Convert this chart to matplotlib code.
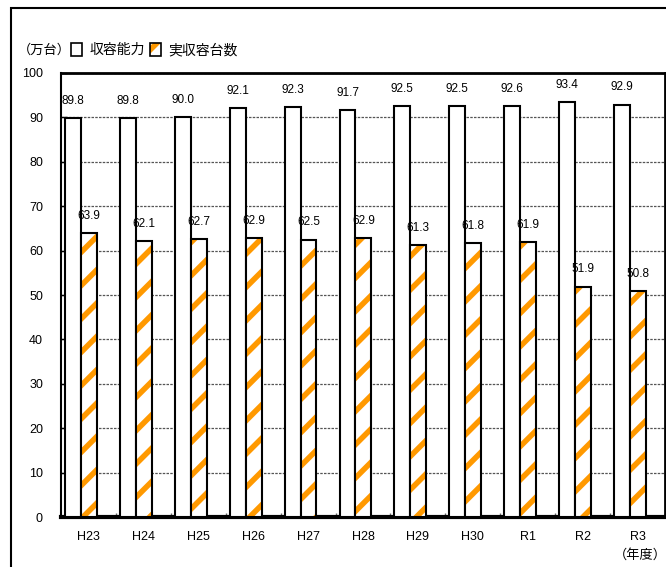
import matplotlib.pyplot as plt
from matplotlib.patches import Patch, Rectangle

plt.rcParams['font.family'] = ['Liberation Sans', 'Noto Sans CJK JP', 'DejaVu Sans']
plt.rcParams['hatch.linewidth'] = 4.0

years = ['H23', 'H24', 'H25', 'H26', 'H27', 'H28', 'H29', 'H30', 'R1', 'R2', 'R3']
capacity = [89.8, 89.8, 90.0, 92.1, 92.3, 91.7, 92.5, 92.5, 92.6, 93.4, 92.9]
actual = [63.9, 62.1, 62.7, 62.9, 62.5, 62.9, 61.3, 61.8, 61.9, 51.9, 50.8]
names = ['収容能力', '実収容台数']

orange = '#FF9900'
fig = plt.figure(figsize=(6.66, 5.67), dpi=100)
ax = fig.add_axes([61 / 666, 1 - 517 / 567, 604 / 666, 444 / 567])

x = list(range(len(years)))
w = 0.29
x_cap = [i - 0.427 for i in x]
x_act = [i - 0.137 for i in x]

ax.bar(x_cap, capacity, width=w, align='edge', color='white', edgecolor='black', linewidth=1.5, zorder=3)
ax.bar(x_act, actual, width=w, align='edge', color='white', edgecolor=orange, hatch='/', linewidth=0, zorder=3)
ax.bar(x_act, actual, width=w, align='edge', fill=False, edgecolor='black', linewidth=1.5, zorder=4)

for i in x:
    ax.text(x_cap[i] + w / 2, capacity[i] + 2.5, f'{capacity[i]:.1f}', ha='center', va='bottom', fontsize=8.5)
    ax.text(x_act[i] + w / 2, actual[i] + 2.5, f'{actual[i]:.1f}', ha='center', va='bottom', fontsize=8.5)

ax.set_xlim(-0.5, len(years) - 0.5)
ax.set_ylim(0, 100)
ax.set_yticks(range(0, 101, 10))
ax.set_xticks(x)
ax.set_xticklabels(years, fontsize=9)
ax.tick_params(axis='x', length=0, pad=10)
ax.set_xticks([i + 0.5 for i in x[:-1]], minor=True)
ax.tick_params(axis='x', which='minor', direction='in', length=3, width=1, color='#666666')
ax.tick_params(axis='y', direction='in', length=4, width=1, labelsize=9, pad=13)
ax.grid(axis='y', linestyle=(0, (2, 1)), color='#555555', linewidth=0.9, zorder=0)

ax.spines['left'].set_linewidth(1.5)
ax.spines['bottom'].set_linewidth(3)
ax.spines['top'].set_linewidth(2)
ax.spines['right'].set_linewidth(2)

h1 = Patch(facecolor='white', edgecolor='black', linewidth=1.2)
h2a = Patch(facecolor='white', edgecolor=orange, hatch='/', linewidth=0)
h2b = Patch(fill=False, edgecolor='black', linewidth=1.2)
ax.legend([h1, (h2a, h2b)], names, loc='center left', bbox_to_anchor=(0.017, 1.052),
          frameon=False, fontsize=10, handlelength=0.8, handleheight=1.1,
          handletextpad=0.5, columnspacing=0.4, ncol=2, borderpad=0, borderaxespad=0)

fig.text(44 / 666, 1 - 50 / 567, '（万台）', ha='center', va='center', fontsize=9.5)
fig.text(640 / 666, 1 - 555 / 567, '（年度）', ha='center', va='center', fontsize=9.5)

fig.patches.append(Rectangle((11 / 666, -0.1), 1.2, 1.1 - 8 / 567, transform=fig.transFigure,
                             fill=False, edgecolor='black', linewidth=1.5))

fig.savefig('out.png', dpi=100)
